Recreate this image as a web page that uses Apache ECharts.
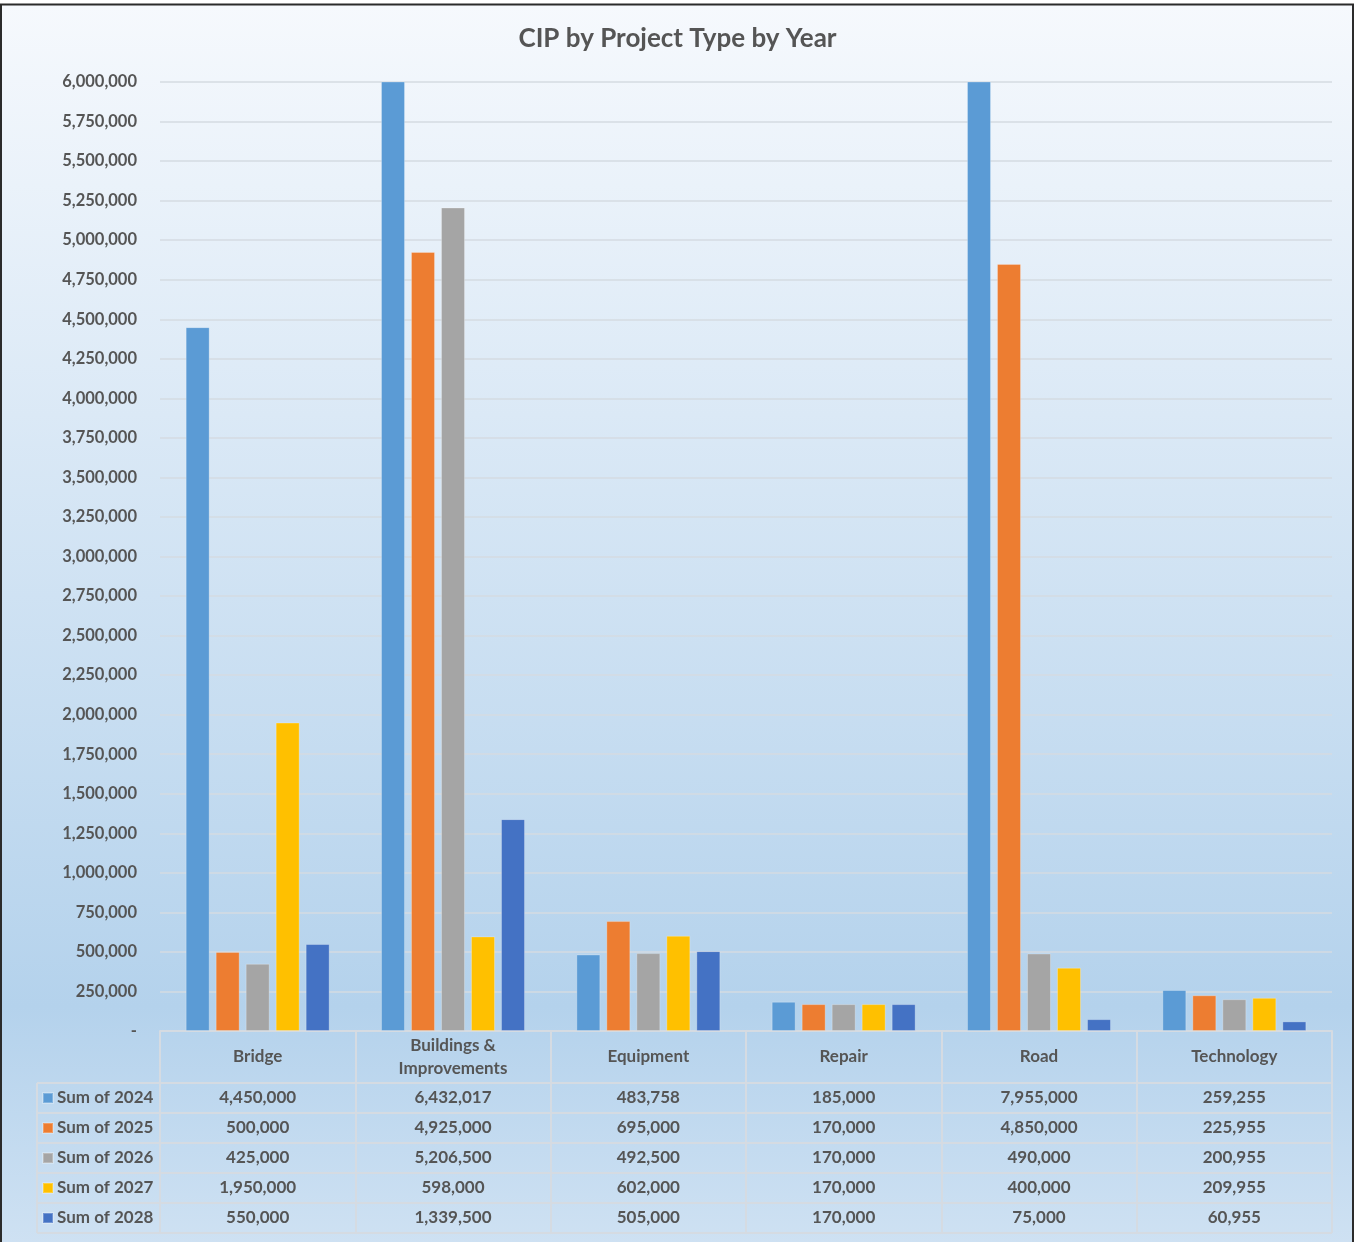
<!DOCTYPE html>
<html>
<head>
<meta charset="utf-8">
<script src="https://cdn.jsdelivr.net/npm/echarts@6/dist/echarts.min.js"></script>
<style>
html,body{margin:0;padding:0;background:#fff;}
#c{width:1355px;height:1242px;}
</style>
</head>
<body>
<div id="c"></div>
<script>
var categories = ['Bridge', 'Buildings &\nImprovements', 'Equipment', 'Repair', 'Road', 'Technology'];
var seriesNames = ['Sum of 2024', 'Sum of 2025', 'Sum of 2026', 'Sum of 2027', 'Sum of 2028'];
var sum2024 = [4450000, 6432017, 483758, 185000, 7955000, 259255];
var sum2025 = [500000, 4925000, 695000, 170000, 4850000, 225955];
var sum2026 = [425000, 5206500, 492500, 170000, 490000, 200955];
var sum2027 = [1950000, 598000, 602000, 170000, 400000, 209955];
var sum2028 = [550000, 1339500, 505000, 170000, 75000, 60955];
var yTicks = { min: 0, max: 6000000, interval: 250000 };

var seriesData = [sum2024, sum2025, sum2026, sum2027, sum2028];
var colors = ['#5b9bd5', '#ed7d31', '#a5a5a5', '#ffc000', '#4472c4'];

var W = 1355, H = 1242;
var gridLeft = 160, gridRight = 23, gridTop = 82, gridBottom = 211;
var axisY = H - gridBottom;      // 1031
var headerH = 52, rowH = 30;
var tableLeft = 37, tableRight = W - gridRight;
var lineCol = '#d5dbe2';
var textCol = '#555555';
var FONT = 'Lato, "Open Sans", sans-serif';

function fmt(v) { return v === 0 ? '-' : v.toLocaleString('en-US'); }

var xAxes = [{
  type: 'category', data: categories, position: 'bottom', gridIndex: 0,
  axisLine: { show: true, lineStyle: { color: lineCol, width: 2 } },
  axisTick: { show: true, length: headerH + rowH * seriesNames.length, lineStyle: { color: lineCol, width: 2 } },
  axisLabel: { margin: 26, verticalAlign: 'middle', lineHeight: 23, color: textCol, fontSize: 17, fontWeight: 'bold', fontFamily: FONT, interval: 0 }
}];
seriesData.forEach(function (arr, k) {
  xAxes.push({
    type: 'category', data: categories, position: 'bottom', gridIndex: 0,
    offset: headerH + rowH * k + rowH / 2,
    axisLine: { show: false }, axisTick: { show: false },
    axisLabel: {
      margin: 0, verticalAlign: 'middle', color: textCol, fontSize: 17, fontWeight: 'bold', fontFamily: FONT, interval: 0,
      formatter: (function (a) { return function (val, idx) { return fmt(a[idx]); }; })(arr)
    }
  });
});

var graphics = [{
  type: 'rect', z: -10, silent: true,
  shape: { x: 1, y: 4.5, width: W - 3, height: H + 10 },
  style: {
    fill: new echarts.graphic.LinearGradient(0, 0, 0, 1, [
      { offset: 0, color: '#f6f9fd' },
      { offset: 0.8, color: '#b4d2ec' },
      { offset: 1, color: '#d0e2f3' }
    ]),
    stroke: '#2b2b2b', lineWidth: 2
  }
}];
for (var r = 0; r <= seriesNames.length; r++) {
  var yy = axisY + headerH + rowH * r;
  graphics.push({ type: 'line', silent: true, z: 1, shape: { x1: tableLeft, y1: yy, x2: tableRight, y2: yy }, style: { stroke: lineCol, lineWidth: 2 } });
}
graphics.push({ type: 'line', silent: true, z: 1, shape: { x1: tableLeft, y1: axisY + headerH, x2: tableLeft, y2: axisY + headerH + rowH * seriesNames.length }, style: { stroke: lineCol, lineWidth: 2 } });

var option = {
  animation: false,
  title: {
    text: 'CIP by Project Type by Year', left: 'center', top: 21,
    textStyle: { color: textCol, fontSize: 26, fontWeight: 'bold', fontFamily: FONT }
  },
  legend: {
    data: seriesNames, orient: 'vertical', left: 42, top: axisY + headerH + 5,
    icon: 'rect', itemWidth: 10, itemHeight: 10, itemGap: 10, padding: 0, selectedMode: false,
    textStyle: { color: textCol, fontSize: 17, fontWeight: 'bold', fontFamily: FONT, lineHeight: 20, padding: [0, 0, 0, -1] }
  },
  grid: { left: gridLeft, right: gridRight, top: gridTop, bottom: gridBottom, containLabel: false },
  xAxis: xAxes,
  yAxis: {
    type: 'value', min: yTicks.min, max: yTicks.max, interval: yTicks.interval,
    axisLine: { show: false }, axisTick: { show: false },
    splitLine: { lineStyle: { color: lineCol, width: 1.5 } },
    axisLabel: { margin: 23, color: textCol, fontSize: 16.5, fontWeight: 'bold', fontFamily: FONT, formatter: fmt }
  },
  graphic: graphics,
  series: seriesData.map(function (arr, k) {
    return {
      name: seriesNames[k], type: 'bar', data: arr, barWidth: 24, barGap: '25%',
      itemStyle: { color: colors[k], borderColor: 'rgba(255,255,255,0.25)', borderWidth: 1 },
      clip: true
    };
  })
};

var chart = echarts.init(document.getElementById('c'), null, { renderer: 'canvas' });
chart.setOption(option);
</script>
</body>
</html>
